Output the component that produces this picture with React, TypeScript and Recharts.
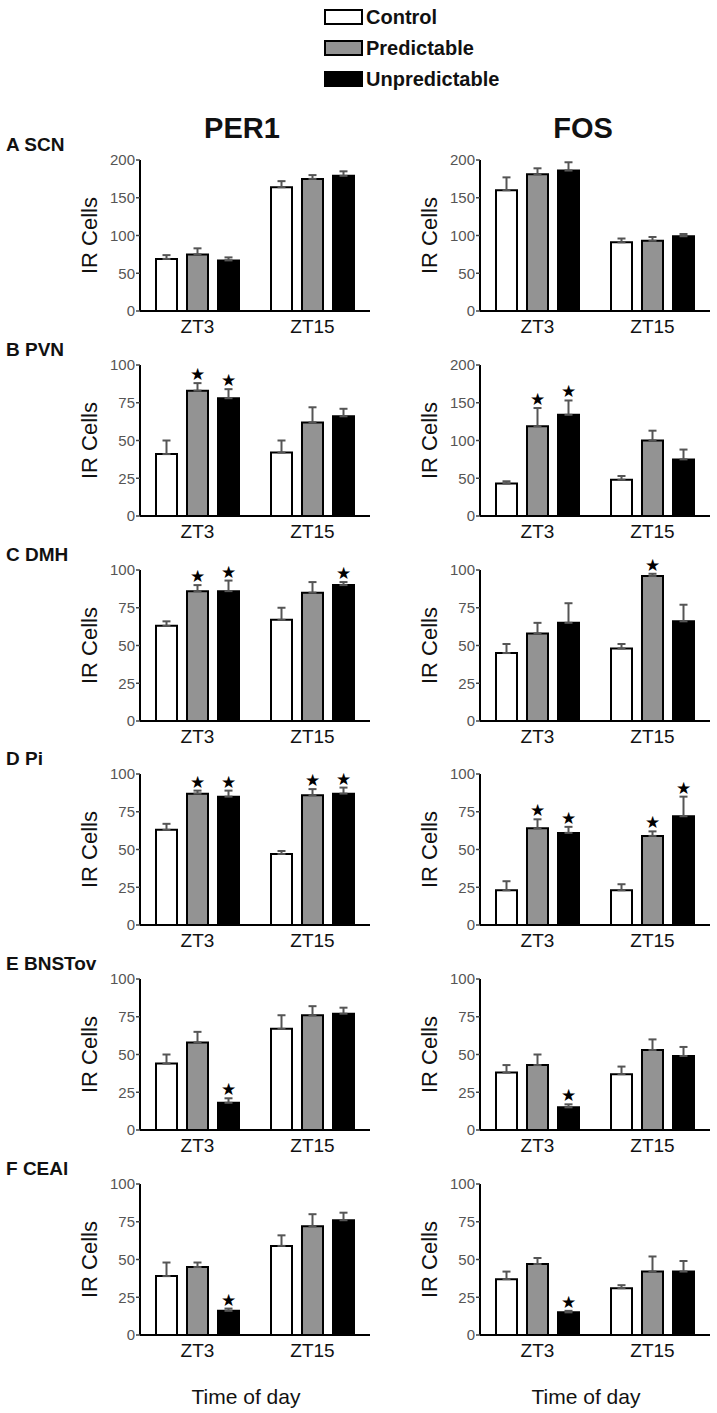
import { Bar, BarChart, ErrorBar, Label, LabelList, XAxis, YAxis } from "recharts"

const FONT = "'Liberation Sans', Arial, Helvetica, sans-serif"

const TIMES = ["ZT3", "ZT15"]
const GROUPS = ["Control", "Predictable", "Unpredictable"]
const FILLS = ["#ffffff", "#939393", "#000000"]

const TICKS_200 = [0, 50, 100, 150, 200]
const TICKS_100 = [0, 25, 50, 75, 100]

// each array: [ZT3, ZT15], each entry [Control, Predictable, Unpredictable]
const SCN_PER1_MEAN = [[69, 75, 67], [164, 175, 179]]
const SCN_PER1_SEM = [[5, 8, 4], [8, 5, 6]]
const SCN_PER1_SIG = [[0, 0, 0], [0, 0, 0]]
const SCN_FOS_MEAN = [[160, 181, 186], [91, 93, 99]]
const SCN_FOS_SEM = [[17, 8, 11], [5, 5, 3]]
const SCN_FOS_SIG = [[0, 0, 0], [0, 0, 0]]

const PVN_PER1_MEAN = [[41, 83, 78], [42, 62, 66]]
const PVN_PER1_SEM = [[9, 5, 6], [8, 10, 5]]
const PVN_PER1_SIG = [[0, 1, 1], [0, 0, 0]]
const PVN_FOS_MEAN = [[43, 119, 134], [48, 100, 75]]
const PVN_FOS_SEM = [[3, 24, 19], [5, 13, 13]]
const PVN_FOS_SIG = [[0, 1, 1], [0, 0, 0]]

const DMH_PER1_MEAN = [[63, 86, 86], [67, 85, 90]]
const DMH_PER1_SEM = [[3, 4, 7], [8, 7, 2]]
const DMH_PER1_SIG = [[0, 1, 1], [0, 0, 1]]
const DMH_FOS_MEAN = [[45, 58, 65], [48, 96, 66]]
const DMH_FOS_SEM = [[6, 7, 13], [3, 1.5, 11]]
const DMH_FOS_SIG = [[0, 0, 0], [0, 1, 0]]

const PI_PER1_MEAN = [[63, 87, 85], [47, 86, 87]]
const PI_PER1_SEM = [[4, 2, 4], [2, 4, 4]]
const PI_PER1_SIG = [[0, 1, 1], [0, 1, 1]]
const PI_FOS_MEAN = [[23, 64, 61], [23, 59, 72]]
const PI_FOS_SEM = [[6, 6, 4], [4, 3, 13]]
const PI_FOS_SIG = [[0, 1, 1], [0, 1, 1]]

const BNST_PER1_MEAN = [[44, 58, 18], [67, 76, 77]]
const BNST_PER1_SEM = [[6, 7, 3], [9, 6, 4]]
const BNST_PER1_SIG = [[0, 0, 1], [0, 0, 0]]
const BNST_FOS_MEAN = [[38, 43, 15], [37, 53, 49]]
const BNST_FOS_SEM = [[5, 7, 2], [5, 7, 6]]
const BNST_FOS_SIG = [[0, 0, 1], [0, 0, 0]]

const CEA_PER1_MEAN = [[39, 45, 16], [59, 72, 76]]
const CEA_PER1_SEM = [[9, 3, 1.5], [7, 8, 5]]
const CEA_PER1_SIG = [[0, 0, 1], [0, 0, 0]]
const CEA_FOS_MEAN = [[37, 47, 15], [31, 42, 42]]
const CEA_FOS_SEM = [[5, 4, 1], [2, 10, 7]]
const CEA_FOS_SIG = [[0, 0, 1], [0, 0, 0]]

const ROWS = [
  { label: "A SCN", per1: [SCN_PER1_MEAN, SCN_PER1_SEM, SCN_PER1_SIG, TICKS_200], fos: [SCN_FOS_MEAN, SCN_FOS_SEM, SCN_FOS_SIG, TICKS_200] },
  { label: "B PVN", per1: [PVN_PER1_MEAN, PVN_PER1_SEM, PVN_PER1_SIG, TICKS_100], fos: [PVN_FOS_MEAN, PVN_FOS_SEM, PVN_FOS_SIG, TICKS_200] },
  { label: "C DMH", per1: [DMH_PER1_MEAN, DMH_PER1_SEM, DMH_PER1_SIG, TICKS_100], fos: [DMH_FOS_MEAN, DMH_FOS_SEM, DMH_FOS_SIG, TICKS_100] },
  { label: "D Pi", per1: [PI_PER1_MEAN, PI_PER1_SEM, PI_PER1_SIG, TICKS_100], fos: [PI_FOS_MEAN, PI_FOS_SEM, PI_FOS_SIG, TICKS_100] },
  { label: "E BNSTov", per1: [BNST_PER1_MEAN, BNST_PER1_SEM, BNST_PER1_SIG, TICKS_100], fos: [BNST_FOS_MEAN, BNST_FOS_SEM, BNST_FOS_SIG, TICKS_100] },
  { label: "F CEAl", per1: [CEA_PER1_MEAN, CEA_PER1_SEM, CEA_PER1_SIG, TICKS_100], fos: [CEA_FOS_MEAN, CEA_FOS_SEM, CEA_FOS_SIG, TICKS_100] },
]

const FIRST_TOP = 160
const ROW_PITCH = 204.8
const PLOT_H = 151
const PLOT_W = 230
const TOP_M = 20

function toData(mean: number[][], sem: number[][], sig: number[][]) {
  return TIMES.map((t, i) => {
    const row: any = { time: t }
    GROUPS.forEach((_, g) => {
      row[`m${g}`] = mean[i][g]
      row[`e${g}`] = [0, sem[i][g]]
      row[`s${g}`] = sig[i][g] ? sem[i][g] : null
    })
    return row
  })
}

function Star(props: any) {
  const { value, index, data, g } = props
  if (value == null) return null
  const vb = props.viewBox ?? props
  const { x, y, width, height } = vb
  const mean = data[index][`m${g}`]
  const capY = y - (value * height) / mean
  return (
    <text x={x + width / 2} y={capY - 3} textAnchor="middle" fontSize={17} fontFamily="'DejaVu Sans'" fill="#000">
      ★
    </text>
  )
}

const irLabel = (props: any) => {
  const vb = props.viewBox
  if (!vb) return null
  const cx = vb.x + 9
  const cy = vb.y + vb.height / 2
  return (
    <text x={cx} y={cy} transform={`rotate(-90 ${cx} ${cy})`} textAnchor="middle" dominantBaseline="central" fontSize={22} fontFamily={FONT} fill="#111">
      IR Cells
    </text>
  )
}

const timeLabel = (props: any) => {
  const vb = props.viewBox
  if (!vb) return null
  return (
    <text x={vb.x + vb.width / 2 - 9} y={vb.y + 61} textAnchor="middle" dominantBaseline="central" fontSize={21} fontFamily={FONT} fill="#111">
      Time of day
    </text>
  )
}

function Panel({ panel, left, top, width, last }: any) {
  const [mean, sem, sig, ticks] = panel
  const data = toData(mean, sem, sig)
  const axisH = last ? 80 : 30
  return (
    <div style={{ position: "absolute", left, top }}>
      <BarChart
        width={width}
        height={TOP_M + PLOT_H + axisH}
        data={data}
        margin={{ top: TOP_M, right: width - 140 - PLOT_W, bottom: 0, left: 80 }}
        barSize={21}
        barGap={10}
      >
        <XAxis
          dataKey="time"
          height={axisH}
          tickLine={false}
          axisLine={{ stroke: "#000", strokeWidth: 2 }}
          tick={{ fill: "#111", fontSize: 19, fontFamily: FONT }}
          tickSize={6}
          tickMargin={3}
        >
          {last && <Label content={timeLabel} />}
        </XAxis>
        <YAxis
          width={60}
          domain={[0, ticks[ticks.length - 1]]}
          ticks={ticks}
          interval={0}
          tickSize={4}
          tickMargin={1}
          axisLine={{ stroke: "#000", strokeWidth: 2 }}
          tickLine={{ stroke: "#444", strokeWidth: 1.5 }}
          tick={{ fill: "#555", fontSize: 15, fontFamily: FONT }}
        >
          <Label content={irLabel} />
        </YAxis>
        {GROUPS.map((name, g) => (
          <Bar key={name} dataKey={`m${g}`} name={name} fill={FILLS[g]} stroke="#000" strokeWidth={2} isAnimationActive={false}>
            <ErrorBar dataKey={`e${g}`} width={4} stroke="#555" strokeWidth={2} direction="y" />
            <LabelList dataKey={`s${g}`} content={(p: any) => <Star {...p} data={data} g={g} />} />
          </Bar>
        ))}
      </BarChart>
    </div>
  )
}

const LEGEND_Y = [17, 48, 79]

export default function App() {
  return (
    <div style={{ position: "absolute", left: 0, top: 0, width: 717, height: 1413, background: "#fff", fontFamily: FONT, color: "#111" }}>
      {GROUPS.map((name, g) => (
        <div key={name}>
          <div
            style={{
              position: "absolute",
              left: 324,
              top: LEGEND_Y[g] - 8,
              width: 35,
              height: 12,
              border: "2px solid #000",
              background: FILLS[g],
            }}
          />
          <div style={{ position: "absolute", left: 366, top: LEGEND_Y[g] - 11, lineHeight: "22px", fontSize: 20, fontWeight: 700 }}>{name}</div>
        </div>
      ))}
      <div style={{ position: "absolute", left: 142, width: 200, top: 113, lineHeight: "30px", fontSize: 29, fontWeight: 700, textAlign: "center" }}>PER1</div>
      <div style={{ position: "absolute", left: 483, width: 200, top: 113, lineHeight: "30px", fontSize: 29, fontWeight: 700, textAlign: "center" }}>FOS</div>
      {ROWS.map((row, i) => {
        const plotTop = FIRST_TOP + i * ROW_PITCH
        const last = i === ROWS.length - 1
        return (
          <div key={row.label}>
            <div style={{ position: "absolute", left: 6, top: plotTop - 26, lineHeight: "22px", fontSize: 19, fontWeight: 700 }}>{row.label}</div>
            <Panel panel={row.per1} left={0} top={plotTop - TOP_M} width={380} last={last} />
            <Panel panel={row.fos} left={340} top={plotTop - TOP_M} width={377} last={last} />
          </div>
        )
      })}
    </div>
  )
}
